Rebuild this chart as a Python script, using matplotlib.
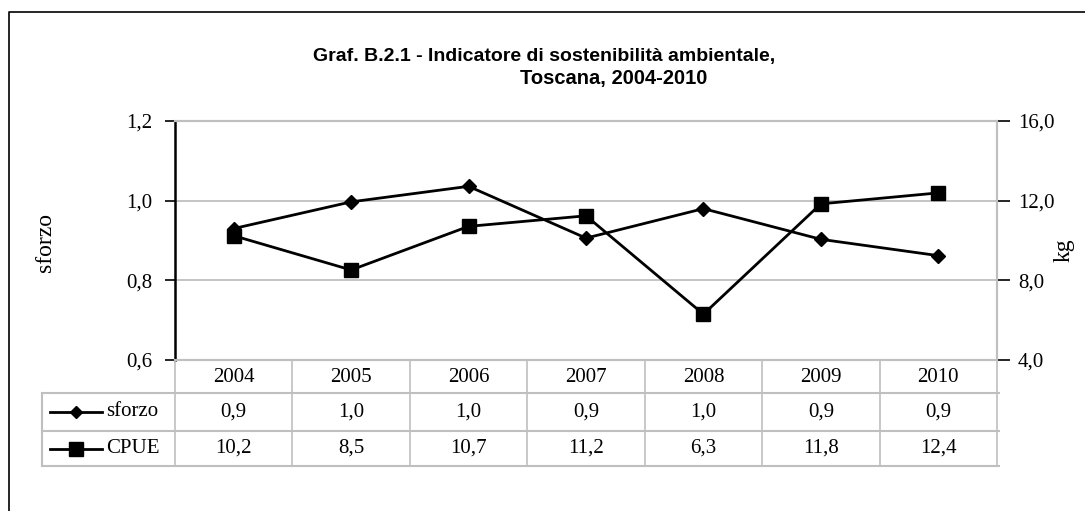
import matplotlib
matplotlib.use("Agg")
import matplotlib.pyplot as plt
from matplotlib.lines import Line2D
from matplotlib import transforms
from matplotlib.ticker import FuncFormatter, FixedLocator

# ---------------- data ----------------
years = ["2004", "2005", "2006", "2007", "2008", "2009", "2010"]
sforzo = [0.930, 0.997, 1.036, 0.906, 0.980, 0.903, 0.862]
cpue = [10.24, 8.52, 10.71, 11.24, 6.30, 11.84, 12.39]
left_ticks = [0.6, 0.8, 1.0, 1.2]
right_ticks = [4.0, 8.0, 12.0, 16.0]
series_names = ["sforzo", "CPUE"]
title_lines = ["Graf. B.2.1 - Indicatore di sostenibilità ambientale,",
               "Toscana, 2004-2010"]

# ---------------- layout ----------------
W, H = 1085, 511
DPI = 100
def fx(px):
    return px / W
def fy(py):
    return 1 - py / H

SERIF = ["Liberation Serif", "DejaVu Serif"]
SANS = ["Liberation Sans", "DejaVu Sans"]
GRID = "#bfbfbf"
FS = 15

fig = plt.figure(figsize=(W / DPI, H / DPI), dpi=DPI)
fig.patch.set_facecolor("white")

ax_l, ax_r, ax_t, ax_b = 175, 997, 121, 360
ax = fig.add_axes([fx(ax_l), fy(ax_b), fx(ax_r) - fx(ax_l), fy(ax_t) - fy(ax_b)])
ax2 = ax.twinx()

n = len(years)
xs = list(range(n))
ax.set_xlim(-0.5, n - 0.5)
ax.set_ylim(left_ticks[0], left_ticks[-1])
ax2.set_ylim(right_ticks[0], right_ticks[-1])

fmt = FuncFormatter(lambda v, p: f"{v:.1f}".replace(".", ","))
ax.yaxis.set_major_locator(FixedLocator(left_ticks))
ax.yaxis.set_major_formatter(fmt)
ax2.yaxis.set_major_locator(FixedLocator(right_ticks))
ax2.yaxis.set_major_formatter(fmt)
ax.set_xticks([])
ax2.set_xticks([])

for t in [1.0, 0.8]:
    ax.axhline(t, color=GRID, lw=1.3, zorder=0)

for s in ["top", "right", "bottom"]:
    ax.spines[s].set_color(GRID)
    ax.spines[s].set_linewidth(1.5)
    ax2.spines[s].set_color(GRID)
    ax2.spines[s].set_linewidth(1.5)
ax.spines["left"].set_color("black")
ax.spines["left"].set_linewidth(1.8)
ax2.spines["left"].set_visible(False)

ax.tick_params(axis="y", direction="out", length=7, width=1.2, color="black",
               pad=9, labelsize=FS)
ax2.tick_params(axis="y", direction="out", length=9, width=1.2, color="black",
                pad=6, labelsize=FS)
for lab in ax.get_yticklabels() + ax2.get_yticklabels():
    lab.set_family(SERIF)

ax.plot(xs, sforzo, color="black", lw=2, marker="D", markersize=7.5, zorder=3)
ax2.plot(xs, cpue, color="black", lw=2, marker="s", markersize=10.5, zorder=3)

# axis titles
fig.text(fx(45), fy(242), "sforzo", rotation=90, ha="center", va="center",
         family=SERIF, fontsize=17)
fig.text(fx(1064), fy(250), "kg", rotation=90, ha="center", va="center",
         family=SERIF, fontsize=17)

# title
fig.text(fx(544), fy(61), title_lines[0], ha="center", va="baseline",
         family=SANS, fontweight="bold", fontsize=14)
fig.text(fx(614), fy(84), title_lines[1], ha="center", va="baseline",
         family=SANS, fontweight="bold", fontsize=14.5)

# ---------------- data table ----------------
bt = transforms.blended_transform_factory(ax.transData, fig.transFigure)
tab_left, tab_right = 42, 999
row_top, row1, row2, row_bot = 360, 393, 431, 466

def hline(py, x0, x1):
    fig.add_artist(Line2D([fx(x0), fx(x1)], [fy(py), fy(py)],
                          transform=fig.transFigure, color=GRID, lw=1.5))

hline(row1, tab_left, tab_right)
hline(row2, tab_left, tab_right)
hline(row_bot, tab_left, tab_right)
fig.add_artist(Line2D([fx(tab_left), fx(tab_left)], [fy(row1), fy(row_bot)],
                      transform=fig.transFigure, color=GRID, lw=1.5))
for b in range(n + 1):
    fig.add_artist(Line2D([b - 0.5, b - 0.5], [fy(row_top), fy(row_bot)],
                          transform=bt, color=GRID, lw=1.2))

hdr_y = (row_top + row1) / 2 + 1
r1_y = (row1 + row2) / 2
r2_y = (row2 + row_bot) / 2
for i, y in enumerate(years):
    fig.text(i, fy(hdr_y), y, transform=bt, ha="center", va="center",
             family=SERIF, fontsize=FS)
    fig.text(i, fy(r1_y), f"{sforzo[i]:.1f}".replace(".", ","), transform=bt,
             ha="center", va="center", family=SERIF, fontsize=FS)
    fig.text(i, fy(r2_y), f"{cpue[i]:.1f}".replace(".", ","), transform=bt,
             ha="center", va="center", family=SERIF, fontsize=FS)

# legend keys inside table
for name, yy, mk, ms in [(series_names[0], r1_y, "D", 6.5),
                         (series_names[1], r2_y, "s", 9.5)]:
    fig.add_artist(Line2D([fx(50), fx(102)], [fy(yy), fy(yy)],
                          transform=fig.transFigure, color="black", lw=2))
    fig.add_artist(Line2D([fx(76)], [fy(yy)], transform=fig.transFigure,
                          color="black", marker=mk, markersize=ms, lw=0))
    fig.text(fx(106), fy(yy), name, ha="left", va="center",
             family=SERIF, fontsize=FS)

# outer frame (partially visible)
fig.add_artist(Line2D([fx(8.5), fx(8.5), 1.0], [0.0, fy(12), fy(12)],
                      transform=fig.transFigure, color="black", lw=1.2))

fig.savefig("out.png", dpi=DPI, facecolor="white")
